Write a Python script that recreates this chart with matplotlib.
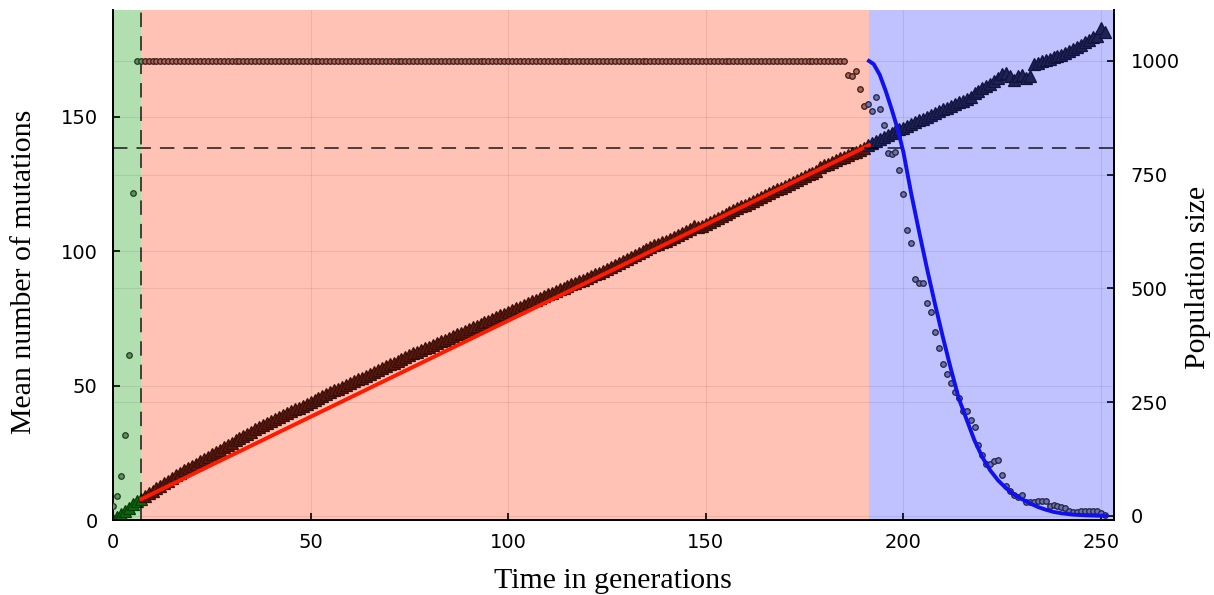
import matplotlib.pyplot as plt

# mean number of mutations per generation (triangles, left axis)
tri_green = [0.0, 1.2, 2.3, 3.5, 4.6, 5.8, 6.9, 8.0]  # gen 0..7
tri_red = [  # gen 8..190
    9.0, 10.0, 10.9, 11.9, 12.8, 13.8, 14.7, 15.6, 16.6, 17.5, 18.5, 19.3, 20.2, 21.0, 21.9,
    22.8, 23.6, 24.5, 25.3, 26.2, 27.0, 27.9, 28.7, 29.6, 30.4, 31.2, 32.0, 32.9, 33.7, 34.6, 35.4, 36.2,
    36.9, 37.7, 38.3, 39.1, 39.7, 40.4, 41.2, 41.8, 42.5, 43.2, 43.9, 44.7, 45.3, 46.0, 46.8, 47.5, 48.2,
    48.9, 49.6, 50.3, 51.0, 51.6, 52.3, 53.0, 53.7, 54.4, 55.1, 55.8, 56.5, 57.2, 57.9, 58.6, 59.3, 60.0,
    60.6, 61.3, 62.0, 62.6, 63.2, 63.9, 64.5, 65.2, 65.8, 66.5, 67.1, 67.8, 68.4, 69.1, 69.7, 70.4, 71.0,
    71.7, 72.3, 72.9, 73.6, 74.2, 74.9, 75.5, 76.2, 76.8, 77.5,
    78.1, 78.8, 79.4, 80.1, 80.7, 81.4, 82.0, 82.7, 83.3, 84.0,
    84.6, 85.2, 85.8, 86.5, 87.1, 87.7, 88.3, 88.9, 89.5, 90.2, 90.8, 91.4, 92.0,
    92.7, 93.5, 94.2, 94.9, 95.6, 96.4, 97.1, 97.8, 98.6, 99.3, 100.0, 100.8, 101.5,
    102.2, 102.8, 103.4, 104.0, 104.7, 105.3, 106.0, 106.7, 107.5, 108.4, 109.3, 109.2, 109.6, 110.3,
    111.0, 111.7, 112.4, 113.1, 113.8, 114.6,
    115.3, 116.0, 116.7, 117.4, 118.1, 118.8, 119.5, 120.2, 120.9, 121.6,
    122.3, 123.0, 123.7, 124.4, 125.1, 125.8, 126.5, 127.2, 127.9, 128.6, 129.3, 130.0,
    131.3, 132.0, 132.6, 133.3, 133.9, 134.6, 135.2, 135.9, 136.5, 137.1, 137.7, 138.3,
]
tri_blue = [  # gen 191..251
    139.5, 140.3, 141.0, 141.8, 142.5, 143.3, 144.0, 144.7, 145.4, 146.0, 146.7, 147.4, 148.0,
    148.7, 149.4, 150.1, 150.8, 151.4, 152.1, 152.8, 153.4, 154.1, 154.8, 155.5, 156.1, 156.7,
    157.5, 159.0, 159.8, 160.6, 161.5, 162.4, 163.5, 164.6, 165.8, 166.3,
    165.4, 163.7, 165.3, 165.6, 164.6, 165.2,
    169.8, 170.2, 170.7, 171.1, 171.6, 172.2, 172.7, 173.2, 173.8, 174.5, 175.2, 176.0, 176.9,
    177.8, 178.8, 179.6, 180.3, 183.0, 181.5,
]

# population size per generation (circles, right axis)
pop_green = [21, 45, 88, 178, 354, 710, 1000, 1000]  # gen 0..7
pop_red = [1000] * 178 + [970, 966, 979, 938, 901]  # gen 8..190
pop_blue = [  # gen 191..251
    906, 890, 920, 894, 859, 797, 795, 799, 760, 707,
    628, 600, 521, 512, 512, 468, 448, 404, 370, 334,
    312, 292, 272, 260, 231, 231, 210, 195, 157, 133,
    115, 115, 120, 123, 89, 67, 54, 47, 41, 47,
    31, 31, 31, 32, 33, 33, 22, 24, 22, 20,
    18, 11, 8, 8, 10, 12, 10, 12, 10, 6, 2,
]

# fitted decline of the population (blue curve)
curve_gen = [191.3, 192.5, 194, 195.5, 197, 198.5, 200, 202, 204, 206, 208, 210, 212, 214, 216,
             218, 220, 222, 224, 226, 228, 230, 232, 234, 236, 238, 240, 243, 246, 249, 251.3]
curve_pop = [1000, 993, 970, 935, 895, 852, 800, 708, 624, 543, 466, 393, 324, 259, 212,
             166, 129, 100, 78, 61, 47, 37, 28, 20, 14, 9, 6, 3, 1.5, 0.7, 0.3]

# linear fit over the red phase
fit_gen = [7.2, 191.3]
fit_mut = [7.8, 139.5]

phase_bounds = [0, 7.2, 191.3, 253.3]
mut_at_switch = 138.6

gen_green = list(range(0, 8))
gen_red = list(range(8, 191))
gen_blue = list(range(191, 252))

fig = plt.figure(figsize=(12.14, 5.95), dpi=100)
ax = fig.add_axes([113 / 1214, 75 / 595, 1001 / 1214, 510 / 595])
ax2 = ax.twinx()

ax.axvspan(phase_bounds[0], phase_bounds[1], color='#b2dfb0', lw=0, zorder=0)
ax.axvspan(phase_bounds[1], phase_bounds[2], color='#ffc2b4', lw=0, zorder=0)
ax.axvspan(phase_bounds[2], phase_bounds[3], color='#bfc2ff', lw=0, zorder=0)

tri_kw = dict(ls='none', marker='^', ms=8, mew=0.9, zorder=3)
ax.plot(gen_green, tri_green, color='#0b6b0b', mec='#063d06', **tri_kw)
ax.plot(gen_red, tri_red, color='#5a1a10', mec='#3a0e08', **tri_kw)
ax.plot(gen_blue, tri_blue, color='#1e2258', mec='#10133a', **tri_kw)

ax.plot(fit_gen, fit_mut, color='#ff1a00', lw=2.8, zorder=4)
ax.axhline(mut_at_switch, color='black', alpha=0.75, lw=1.3, dashes=(8, 5), zorder=5)
ax.axvline(phase_bounds[1], color='black', alpha=0.75, lw=1.3, dashes=(8, 5), zorder=5)

circ_kw = dict(ls='none', marker='o', ms=4, mew=0.9, zorder=3)
ax2.plot(gen_green, pop_green, color='#5f8f5f', mec='#233a23', **circ_kw)
ax2.plot(gen_red, pop_red, color='#a86458', mec='#3a1c18', **circ_kw)
ax2.plot(gen_blue, pop_blue, color='#6c70aa', mec='#22243e', **circ_kw)
ax2.plot(curve_gen, curve_pop, color='#1010f0', lw=2.8, zorder=4)

ax.set_xlim(0, 253.3)
ax.set_ylim(0, 189.8)
ax2.set_ylim(-8.8, 1112)

ax.set_xticks([0, 50, 100, 150, 200, 250])
ax.set_yticks([0, 50, 100, 150])
ax2.set_yticks([0, 250, 500, 750, 1000])

ax.grid(True, color='black', alpha=0.08, lw=0.8)
ax2.grid(True, axis='y', color='black', alpha=0.08, lw=0.8)
ax.set_axisbelow(False)

for a in (ax, ax2):
    a.spines['top'].set_visible(False)
    for s in a.spines.values():
        s.set_linewidth(1.4)
ax.tick_params(axis='both', direction='in', length=5, width=1.2, labelsize=14)
ax.tick_params(axis='x', pad=9)
ax.tick_params(axis='y', pad=11)
ax2.tick_params(axis='y', direction='in', length=5, width=1.2, labelsize=14, pad=12)

serif = ['Liberation Serif', 'DejaVu Serif']
fig.text(613 / 1214, 1 - 581 / 595, 'Time in generations', ha='center', va='center',
         family=serif, fontsize=21.5)
fig.text(24 / 1214, 1 - 272 / 595, 'Mean number of mutations', ha='center', va='center',
         rotation=90, family=serif, fontsize=21.5)
fig.text(1198 / 1214, 1 - 277 / 595, 'Population size', ha='center', va='center',
         rotation=90, family=serif, fontsize=21.5)

fig.savefig('out.png', dpi=100)
